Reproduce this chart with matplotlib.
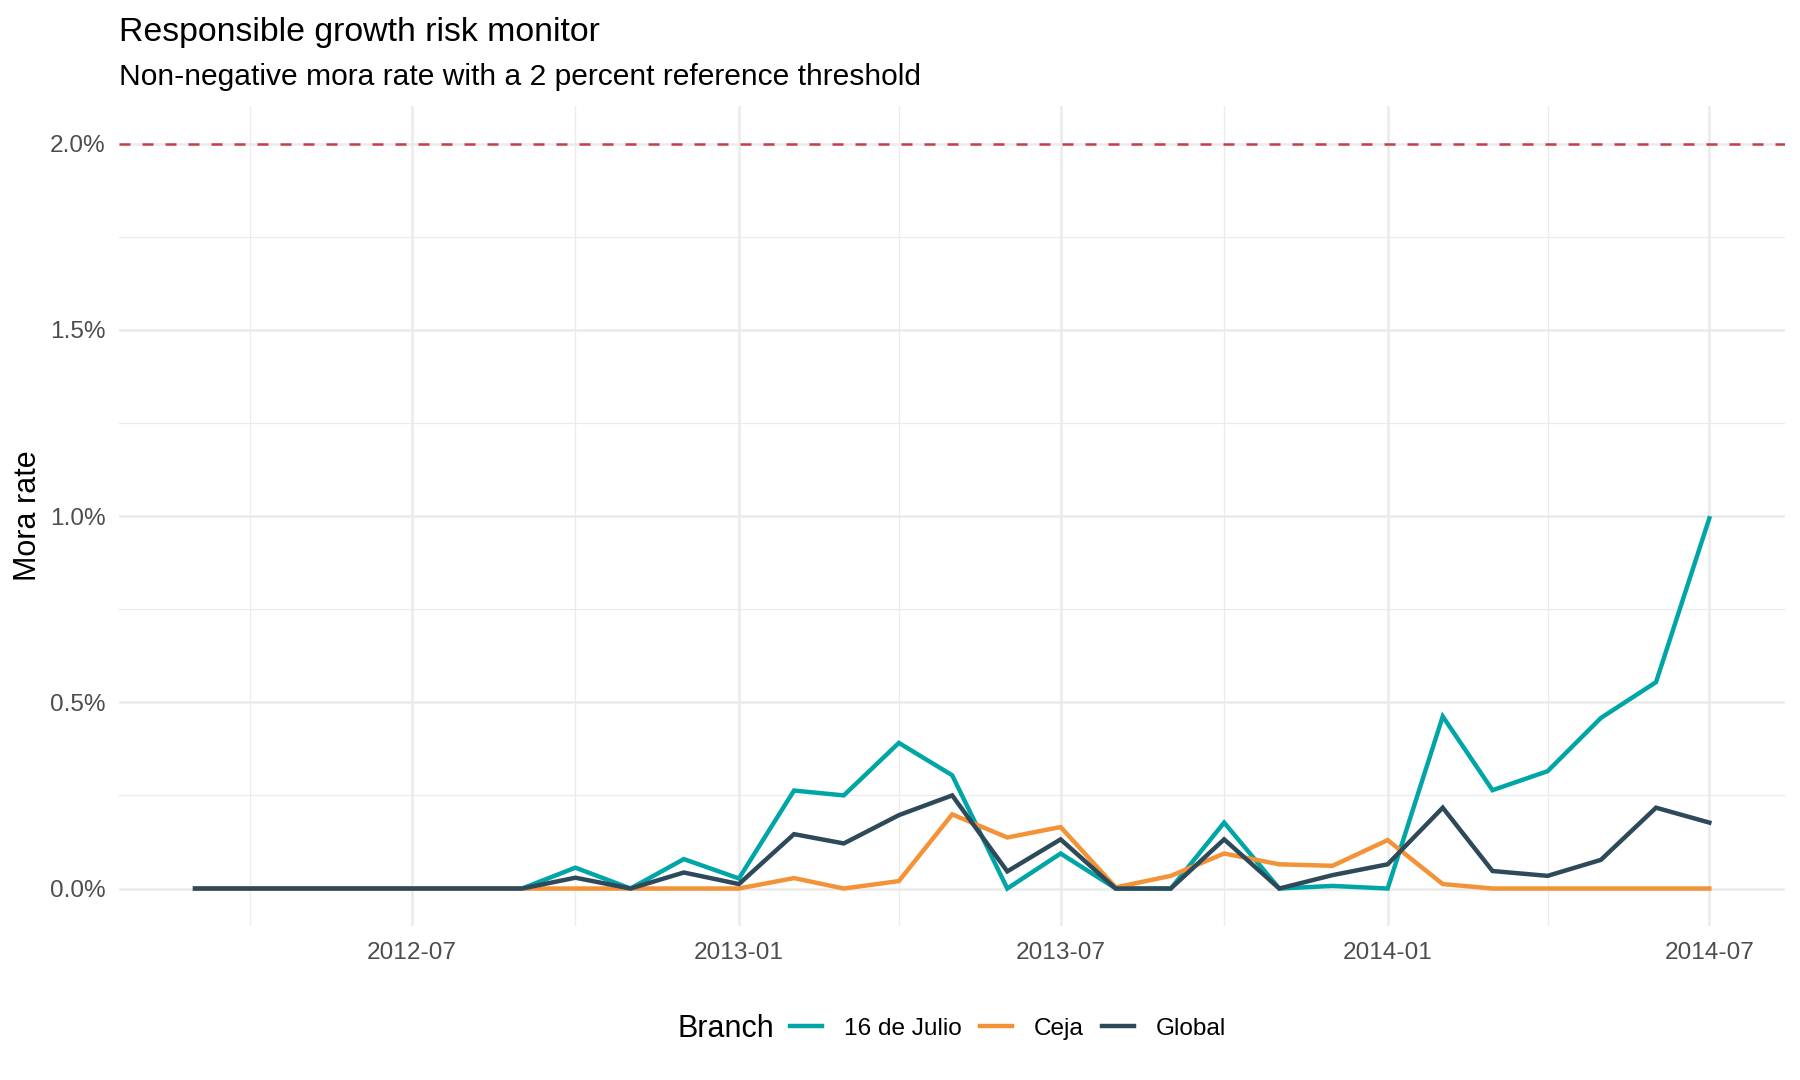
import matplotlib
matplotlib.use("Agg")
import matplotlib.pyplot as plt
import matplotlib.dates as mdates
from matplotlib.ticker import FuncFormatter, MultipleLocator
import pandas as pd

plt.rcParams['font.family'] = ['Liberation Sans', 'DejaVu Sans']

# monthly mora rate, in percent, 2012-03 .. 2014-07
months = pd.date_range("2012-03-01", "2014-07-01", freq="MS")

julio = [0, 0, 0, 0, 0, 0, 0, 0.056, 0, 0.079, 0.027, 0.263, 0.25, 0.391, 0.304,
         0, 0.094, 0, 0, 0.177, 0, 0.007, 0, 0.462, 0.264, 0.315, 0.458, 0.554, 0.994]
ceja = [0, 0, 0, 0, 0, 0, 0, 0, 0, 0, 0, 0.028, 0, 0.02, 0.199,
        0.137, 0.165, 0.003, 0.034, 0.094, 0.065, 0.061, 0.13, 0.012, 0, 0, 0, 0, 0]
glob = [0, 0, 0, 0, 0, 0, 0, 0.029, 0, 0.043, 0.012, 0.146, 0.121, 0.197, 0.25,
        0.046, 0.132, 0, 0, 0.132, 0, 0.036, 0.065, 0.217, 0.047, 0.034, 0.077, 0.217, 0.177]

series_names = ["16 de Julio", "Ceja", "Global"]
series_colors = ["#00A6A6", "#F39237", "#2E4A5A"]
threshold = 2.0

fig = plt.figure(figsize=(9, 5.4), dpi=200)
ax = fig.add_axes([0.0663, 0.1428, 0.9254, 0.7588])

grid_col = "#EBEBEB"
ax.axhline(threshold, color="#C0404B", lw=0.9, dashes=(4.4, 4.8), zorder=3)

for vals, name, col in zip([julio, ceja, glob], series_names, series_colors):
    ax.plot(months, vals, color=col, lw=1.6, label=name, zorder=4,
            solid_joinstyle="miter")

# axis limits with ggplot-like 5% expansion
span = months[-1] - months[0]
ax.set_xlim(months[0] - span * 0.05, months[-1] + span * 0.05)
ax.set_ylim(-0.1, 2.1)

ax.xaxis.set_major_locator(mdates.MonthLocator(bymonth=[1, 7]))
ax.xaxis.set_minor_locator(mdates.MonthLocator(bymonth=[4, 10]))
ax.xaxis.set_major_formatter(mdates.DateFormatter("%Y-%m"))
ax.yaxis.set_major_locator(MultipleLocator(0.5))
ax.yaxis.set_minor_locator(MultipleLocator(0.25))
ax.yaxis.set_major_formatter(FuncFormatter(lambda v, p: f"{v:.1f}%"))

ax.grid(which="major", color=grid_col, lw=0.9)
ax.grid(which="minor", color=grid_col, lw=0.45)
ax.set_axisbelow(True)
for s in ax.spines.values():
    s.set_visible(False)
ax.tick_params(which="both", length=0, labelsize=8.8, labelcolor="#4D4D4D")
ax.tick_params(axis="x", pad=6)
ax.tick_params(axis="y", pad=5)

ax.set_ylabel("Mora rate", fontsize=11, color="black", labelpad=8)
ax.yaxis.set_label_coords(-0.046, 0.5)

fig.text(119 / 1800, 1 - 41 / 1080, "Responsible growth risk monitor",
         fontsize=12.2, ha="left", va="baseline")
fig.text(119 / 1800, 1 - 85 / 1080,
         "Non-negative mora rate with a 2 percent reference threshold",
         fontsize=10.8, ha="left", va="baseline")

# legend at bottom, title on the left
fig.text(677 / 1800, 1 - 1029 / 1080, "Branch", fontsize=11, ha="left", va="center")
fig.legend(loc="center left", bbox_to_anchor=(790 / 1800, 1 - 1029 / 1080),
           ncol=3, frameon=False, fontsize=8.8, handlelength=1.3,
           handletextpad=0.9, columnspacing=0.75, borderpad=0, borderaxespad=0)

fig.savefig("out.png", dpi=200)
